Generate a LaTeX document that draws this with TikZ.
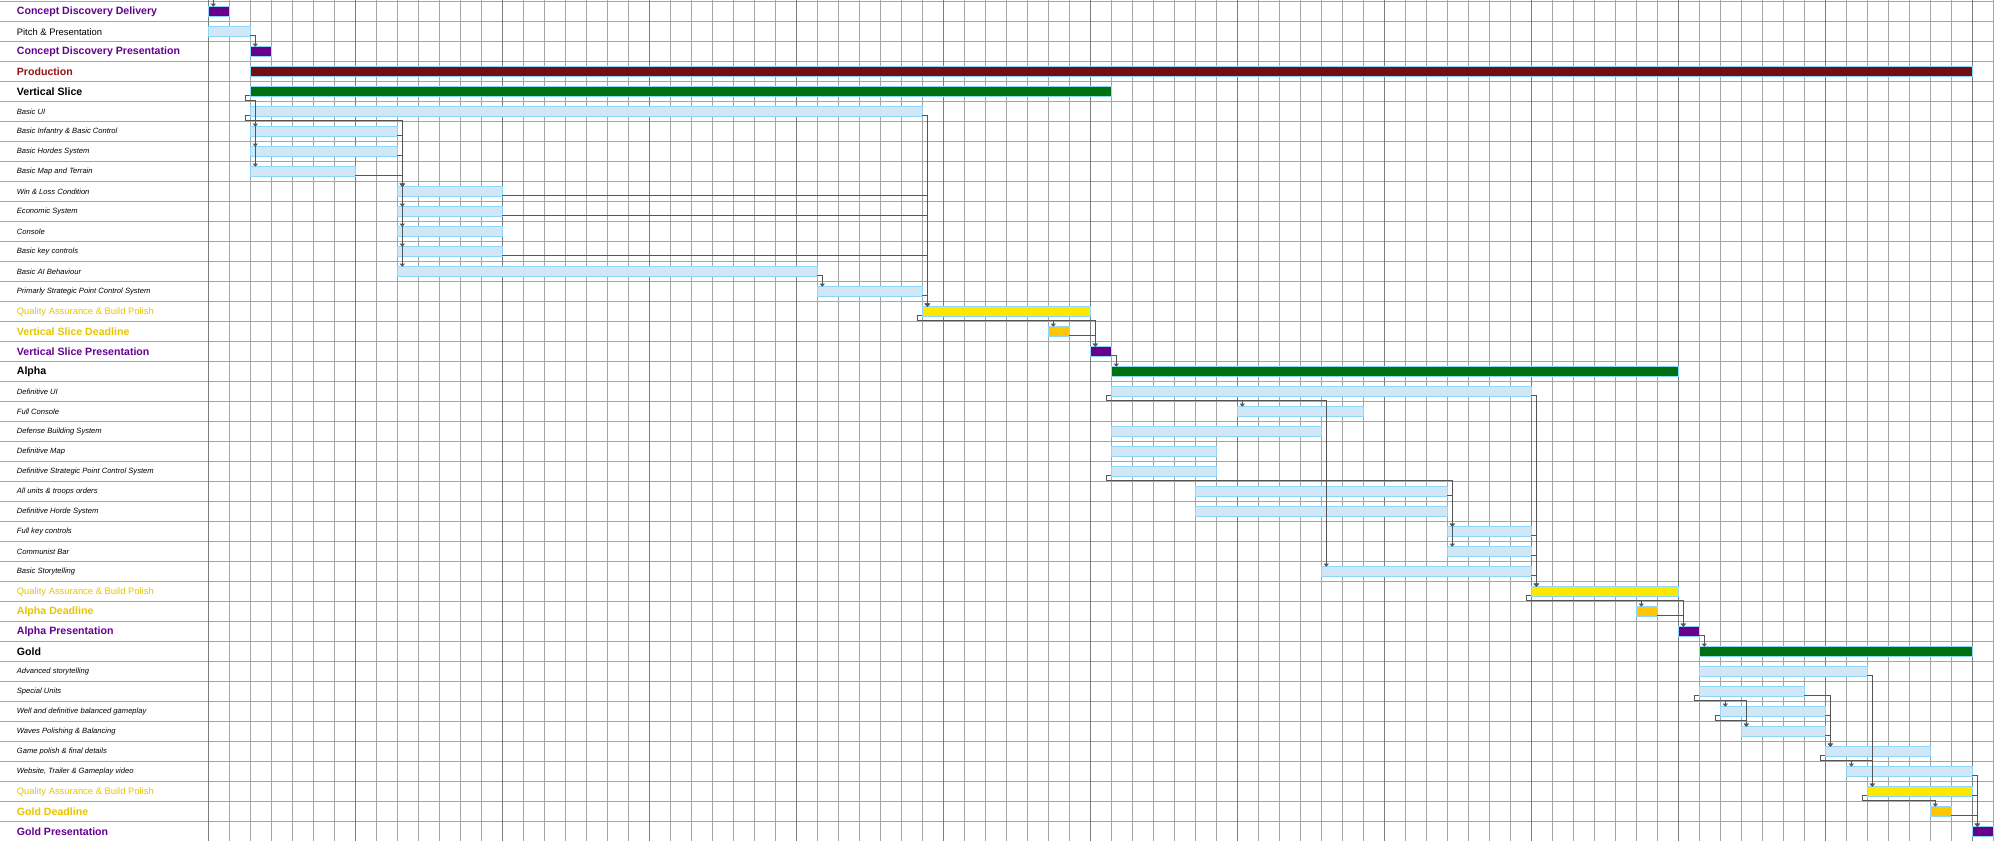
\documentclass[tikz,border=0pt]{standalone}
\usepackage{fontspec}
\setmainfont{Liberation Sans}
\usetikzlibrary{arrows.meta}
\definecolor{gridlight}{RGB}{165,165,165}
\definecolor{griddark}{RGB}{125,125,125}
\definecolor{baredge}{RGB}{140,215,250}
\definecolor{taskfill}{RGB}{210,231,246}
\definecolor{presfill}{RGB}{104,0,140}
\definecolor{prodfill}{RGB}{115,14,20}
\definecolor{phasefill}{RGB}{0,112,16}
\definecolor{qafill}{RGB}{255,232,0}
\definecolor{deadfill}{RGB}{255,198,0}
\definecolor{linkgray}{RGB}{85,85,85}
\definecolor{presink}{RGB}{102,0,145}
\definecolor{prodink}{RGB}{150,20,20}
\definecolor{qaink}{RGB}{232,196,0}

\tikzset{
  gridline/.style={gridlight, line width=0.9pt},
  gridweek/.style={griddark, line width=0.9pt},
  bar/.style={draw=baredge, line width=0.9pt, minimum height=10pt, inner sep=0pt, outer sep=0pt},
  taskbar/.style={bar, fill=taskfill},
  presbar/.style={bar, fill=presfill},
  prodbar/.style={bar, fill=prodfill},
  phasebar/.style={bar, fill=phasefill},
  qabar/.style={bar, fill=qafill},
  deadbar/.style={bar, fill=deadfill},
  link/.style={draw=linkgray, line width=0.9pt, -{Triangle[width=5pt,length=3pt]}},
  plainlink/.style={draw=linkgray, line width=0.9pt},
  lbl/.style={anchor=west, inner sep=0pt},
  lbltask/.style={lbl, font=\fontsize{7.6}{9}\selectfont\itshape},
  lblnorm/.style={lbl, font=\fontsize{9.4}{11}\selectfont},
  lblbold/.style={lbl, font=\fontsize{10.6}{12}\selectfont\bfseries},
  lblpres/.style={lblbold, text=presink},
  lblprod/.style={lblbold, text=prodink},
  lblqa/.style={lblnorm, text=qaink},
  lbldead/.style={lblbold, text=qaink}
}

\begin{document}
\begin{tikzpicture}[x=21pt,y=-20pt]
  \useasboundingbox (-9.919,-0.085) rectangle (85.033,41.965);
  \fill[white] (-9.919,-0.085) rectangle (85.033,41.965);

  % grid: one column per day, darker line every week
  \foreach \r in {0,...,41}
    \draw[gridline] (-9.919,\r) -- (85.033,\r);
  \foreach \c in {0,...,85}
    \draw[gridline] (\c,-0.085) -- (\c,41.965);
  \foreach \c in {0,7,...,84}
    \draw[gridweek] (\c,-0.085) -- (\c,41.965);

  % task names
  \foreach \r/\kind/\txt in {
      0/lblpres/Concept Discovery Delivery,
      1/lblnorm/Pitch \& Presentation,
      2/lblpres/Concept Discovery Presentation,
      3/lblprod/Production,
      4/lblbold/Vertical Slice,
      5/lbltask/Basic UI,
      6/lbltask/Basic Infantry \& Basic Control,
      7/lbltask/Basic Hordes System,
      8/lbltask/Basic Map and Terrain,
      9/lbltask/Win \& Loss Condition,
      10/lbltask/Economic System,
      11/lbltask/Console,
      12/lbltask/Basic key controls,
      13/lbltask/Basic AI Behaviour,
      14/lbltask/Primarly Strategic Point Control System,
      15/lblqa/Quality Assurance \& Build Polish,
      16/lbldead/Vertical Slice Deadline,
      17/lblpres/Vertical Slice Presentation,
      18/lblbold/Alpha,
      19/lbltask/Definitive UI,
      20/lbltask/Full Console,
      21/lbltask/Defense Building System,
      22/lbltask/Definitive Map,
      23/lbltask/Definitive Strategic Point Control System,
      24/lbltask/All units \& troops orders,
      25/lbltask/Definitive Horde System,
      26/lbltask/Full key controls,
      27/lbltask/Communist Bar,
      28/lbltask/Basic Storytelling,
      29/lblqa/Quality Assurance \& Build Polish,
      30/lbldead/Alpha Deadline,
      31/lblpres/Alpha Presentation,
      32/lblbold/Gold,
      33/lbltask/Advanced storytelling,
      34/lbltask/Special Units,
      35/lbltask/Well and definitive balanced gameplay,
      36/lbltask/Waves Polishing \& Balancing,
      37/lbltask/Game polish \& final details,
      38/lbltask/{Website, Trailer \& Gameplay video},
      39/lblqa/Quality Assurance \& Build Polish,
      40/lbldead/Gold Deadline,
      41/lblpres/Gold Presentation}
    \node[\kind] (l\r) at (-9.124,\r+0.5) {\txt};

  % bars: row/first day/last day/kind
  \foreach \r/\s/\e/\kind in {
      0/0/1/presbar, 1/0/2/taskbar, 2/2/3/presbar, 3/2/84/prodbar,
      4/2/43/phasebar, 5/2/34/taskbar, 6/2/9/taskbar, 7/2/9/taskbar,
      8/2/7/taskbar, 9/9/14/taskbar, 10/9/14/taskbar, 11/9/14/taskbar,
      12/9/14/taskbar, 13/9/29/taskbar, 14/29/34/taskbar, 15/34/42/qabar,
      16/40/41/deadbar, 17/42/43/presbar,
      18/43/70/phasebar, 19/43/63/taskbar, 20/49/55/taskbar, 21/43/53/taskbar,
      22/43/48/taskbar, 23/43/48/taskbar, 24/47/59/taskbar, 25/47/59/taskbar,
      26/59/63/taskbar, 27/59/63/taskbar, 28/53/63/taskbar, 29/63/70/qabar,
      30/68/69/deadbar, 31/70/71/presbar,
      32/71/84/phasebar, 33/71/79/taskbar, 34/71/76/taskbar, 35/72/77/taskbar,
      36/73/77/taskbar, 37/77/82/taskbar, 38/78/84/taskbar, 39/79/84/qabar,
      40/82/83/deadbar, 41/84/85/presbar}
    \node[\kind, minimum width={(\e-\s)*21pt}] (b\r) at ({(\s+\e)/2},\r+0.5) {};

  % finish-to-start links
  \coordinate (entry) at ([xshift=5pt,yshift=7pt]b0.north west);
  \draw[link] (entry) -- ([xshift=5pt]b0.north west);
  \foreach \a/\b in {1/2, 6/9, 7/9, 8/9, 5/15, 9/15, 10/15, 12/15, 13/14,
      14/15, 16/17, 17/18, 19/29, 24/26, 26/29, 27/29, 28/29, 30/31, 31/32,
      33/39, 34/37, 35/37, 36/37, 38/41, 39/41, 40/41}
    \draw[link] ([yshift=1pt]b\a.south east) -| ([xshift=5pt]b\b.north west);

  % start-to-start links (stub on the left of the bar)
  \draw[plainlink] ([yshift=1pt]b4.south west) -- ++(-5pt,0) -- ++(0,-4.6pt)
    -| ([xshift=5pt]b5.north west);
  \foreach \a/\b in {4/6, 4/7, 4/8, 5/9, 5/10, 5/11, 5/12, 5/13, 15/16, 15/17,
      19/20, 19/28, 23/26, 23/27, 29/30, 29/31, 34/35, 34/36, 35/36,
      37/38, 37/39, 39/40}
    \draw[link] ([yshift=1pt]b\a.south west) -- ++(-5pt,0) -- ++(0,-4.6pt)
      -| ([xshift=5pt]b\b.north west);
\end{tikzpicture}
\end{document}
